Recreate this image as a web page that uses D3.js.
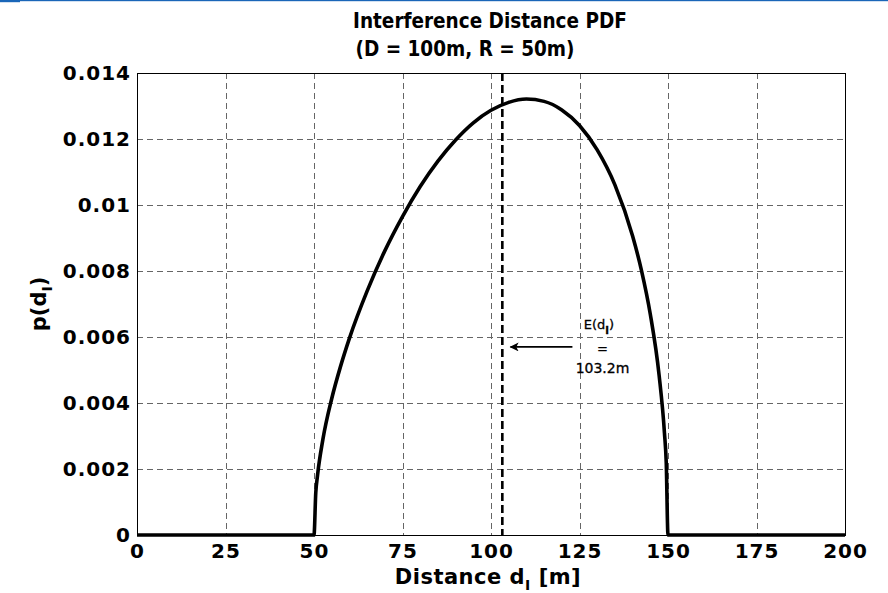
<!DOCTYPE html>
<html>
<head>
<meta charset="utf-8">
<script src="https://cdn.jsdelivr.net/npm/d3@7"></script>
<style>
  body { margin: 0; background: #fff; }
  svg { display: block; font-family: "DejaVu Sans", Verdana, sans-serif; }
</style>
</head>
<body>
<div id="chart"></div>
<script>
// Interference distance PDF (D = 100m, R = 50m)
const distances = [0, 50, 50.5, 51, 52.5, 55, 57.5, 60, 65, 70, 75, 80, 85, 90, 95, 100,
                   105, 110, 115, 120, 125, 130, 135, 140, 142.5, 145, 147.5, 149, 149.5, 150, 200];
const density   = [0, 0, 0.00128, 0.00181, 0.00289, 0.00413, 0.00511, 0.00596, 0.00739, 0.00861,
                   0.00965, 0.01056, 0.01133, 0.01197, 0.01249, 0.01287, 0.01311, 0.01321, 0.01314,
                   0.01288, 0.01241, 0.01167, 0.01061, 0.00906, 0.00802, 0.00669, 0.00483, 0.00309,
                   0.00220, 0, 0];
const xTicks = [0, 25, 50, 75, 100, 125, 150, 175, 200];
const yTicks = [0, 0.002, 0.004, 0.006, 0.008, 0.01, 0.012, 0.014];
const yTickLabels = ["0", "0.002", "0.004", "0.006", "0.008", "0.01", "0.012", "0.014"];
const meanDistance = 103.2;
const arrowFrom = [123, 0.0057];
const arrowTo   = [105.5, 0.0057];

const W = 888, H = 593;
const margin = { top: 73, right: 43, bottom: 58, left: 137 };
const width  = W - margin.left - margin.right;
const height = H - margin.top - margin.bottom;

const svg = d3.select("#chart").append("svg")
    .attr("width", W).attr("height", H);

// thin blue strip at the very top
svg.append("rect").attr("x", 0).attr("y", 0).attr("width", W).attr("height", 1.2).attr("fill", "#1a66b8");
svg.append("rect").attr("x", 0).attr("y", 0).attr("width", 20).attr("height", 2.2).attr("fill", "#1a66b8");

const defs = svg.append("defs");
defs.append("marker")
    .attr("id", "arrow")
    .attr("viewBox", "0 0 10 10")
    .attr("refX", 9).attr("refY", 5)
    .attr("markerWidth", 12).attr("markerHeight", 9)
    .attr("markerUnits", "userSpaceOnUse")
    .attr("orient", "auto")
    .append("path").attr("d", "M0,0 L10,5 L0,10 L2.5,5 Z").attr("fill", "#000");

const g = svg.append("g").attr("transform", `translate(${margin.left},${margin.top})`);

const x = d3.scaleLinear().domain([0, 200]).range([0, width]);
const y = d3.scaleLinear().domain([0, 0.014]).range([height, 0]);

// ── Grid ─────────────────────────────────────────────
const grid = g.append("g").attr("stroke", "#666").attr("stroke-width", 1).attr("stroke-dasharray", "6,4");
grid.selectAll(".vx").data(xTicks.slice(1, -1)).join("line")
    .attr("x1", d => Math.round(x(d)) + 0.5).attr("x2", d => Math.round(x(d)) + 0.5)
    .attr("y1", 0).attr("y2", height);
grid.selectAll(".hy").data(yTicks.slice(1, -1)).join("line")
    .attr("y1", d => Math.round(y(d)) + 0.5).attr("y2", d => Math.round(y(d)) + 0.5)
    .attr("x1", 0).attr("x2", width);

// ── Frame ────────────────────────────────────────────
g.append("rect").attr("x", 0.5).attr("y", 0.5).attr("width", width).attr("height", height)
    .attr("fill", "none").attr("stroke", "#000").attr("stroke-width", 1);

// ── Axes ─────────────────────────────────────────────
const xAxis = g.append("g").attr("transform", `translate(0,${height})`)
    .call(d3.axisBottom(x).tickValues(xTicks).tickSize(0).tickPadding(5).tickFormat(d3.format("d")));
const yAxis = g.append("g")
    .call(d3.axisLeft(y).tickValues(yTicks).tickSize(0).tickPadding(6).tickFormat((d, i) => yTickLabels[i]));
[xAxis, yAxis].forEach(a => {
    a.select(".domain").remove();
    a.selectAll("text").style("font-size", "20px").style("font-weight", "bold").attr("fill", "#000")
        .style("letter-spacing", "1px")
        .style("font-family", "'DejaVu Sans', sans-serif");
});
xAxis.selectAll("text").attr("dy", "0.9em");
yAxis.selectAll("text").attr("dy", "0.3em");

// ── Mean line ────────────────────────────────────────
g.append("line")
    .attr("x1", x(meanDistance)).attr("x2", x(meanDistance))
    .attr("y1", 0).attr("y2", height)
    .attr("stroke", "#000").attr("stroke-width", 2.6).attr("stroke-dasharray", "8,4");

// ── PDF curve ────────────────────────────────────────
const line = d3.line().x((d, i) => x(distances[i])).y(d => y(d)).curve(d3.curveMonotoneX);
g.append("path").datum(density)
    .attr("d", line)
    .attr("fill", "none").attr("stroke", "#000").attr("stroke-width", 3.6)
    .attr("stroke-linejoin", "round");

// ── Annotation ───────────────────────────────────────
g.append("line")
    .attr("x1", x(arrowFrom[0])).attr("y1", y(arrowFrom[1]))
    .attr("x2", x(arrowTo[0])).attr("y2", y(arrowTo[1]))
    .attr("stroke", "#000").attr("stroke-width", 1.6)
    .attr("marker-end", "url(#arrow)");

const ann = g.append("g").style("font-size", "13px").attr("text-anchor", "middle")
    .attr("stroke", "#000").attr("stroke-width", 0.3);
const eText = ann.append("text").attr("x", x(130.5)).attr("y", y(0.00625));
eText.append("tspan").text("E(d");
eText.append("tspan").attr("dy", 5).style("font-size", "10px").style("font-weight", "bold").text("I");
eText.append("tspan").attr("dy", -5).text(")");
ann.append("text").attr("x", x(131.5)).attr("y", y(0.00552)).text("=");
ann.append("text").attr("x", x(131.5)).attr("y", y(0.00491)).style("font-size", "14px").text("103.2m");

// ── Titles ───────────────────────────────────────────
const titleFont = "'DejaVu Sans Condensed', 'DejaVu Sans', sans-serif";
svg.append("text").attr("x", 490).attr("y", 28).attr("text-anchor", "middle")
    .style("font-size", "20.5px").style("font-weight", "bold")
    .style("font-family", titleFont)
    .text("Interference Distance PDF");
svg.append("text").attr("x", 465).attr("y", 56).attr("text-anchor", "middle")
    .style("font-size", "20.5px").style("font-weight", "bold")
    .style("font-family", titleFont)
    .text("(D = 100m, R = 50m)");

const xl = svg.append("text").attr("x", 488).attr("y", 584).attr("text-anchor", "middle")
    .style("font-size", "21px").style("font-weight", "bold").style("letter-spacing", "0.5px");
xl.append("tspan").text("Distance d");
xl.append("tspan").attr("dy", 6).style("font-size", "14px").text("I");
xl.append("tspan").attr("dy", -6).text(" [m]");

const yl = svg.append("text")
    .attr("transform", `translate(46,${margin.top + height / 2}) rotate(-90)`)
    .attr("text-anchor", "middle")
    .style("font-size", "21px").style("font-weight", "bold");
yl.append("tspan").text("p(d");
yl.append("tspan").attr("dy", 6).style("font-size", "14px").text("I");
yl.append("tspan").attr("dy", -6).text(")");
</script>
</body>
</html>
